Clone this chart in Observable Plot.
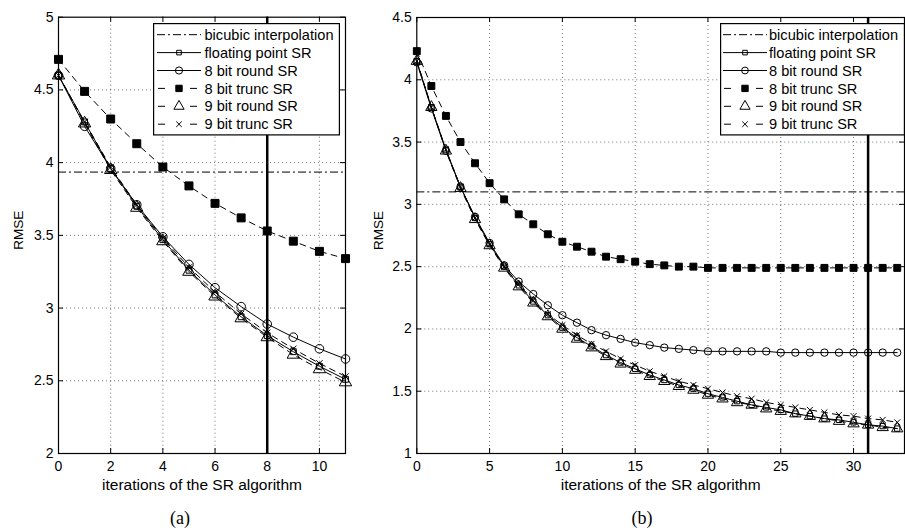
<!DOCTYPE html>
<html><head><meta charset="utf-8">
<script src="https://cdn.jsdelivr.net/npm/d3@7"></script>
<script src="https://cdn.jsdelivr.net/npm/@observablehq/plot@0.6"></script>
<style>
body{margin:0;background:#fff;}
#fig{position:relative;width:905px;height:532px;font-family:"Liberation Sans",Arial,sans-serif;overflow:hidden;}
#fig svg{position:absolute;}
.cap{position:absolute;font-family:"Liberation Serif","Times New Roman",serif;font-size:18px;transform:translateX(-50%);line-height:1;}
</style></head><body><div id="fig"></div>
<script>
// ---------- data ----------
const seriesNames = ["bicubic interpolation","floating point SR","8 bit round SR","8 bit trunc SR","9 bit round SR","9 bit trunc SR"];
const xLabel = "iterations of the SR algorithm";
const yLabel = "RMSE";

// panel (a)
const aIter = [0,1,2,3,4,5,6,7,8,9,10,11];
const aFloat  = [4.60,4.28,3.96,3.70,3.47,3.26,3.09,2.94,2.81,2.70,2.60,2.51];
const aRound8 = [4.60,4.25,3.96,3.71,3.49,3.30,3.14,3.01,2.89,2.80,2.72,2.65];
const aTrunc8 = [4.71,4.49,4.30,4.13,3.97,3.84,3.72,3.62,3.53,3.46,3.39,3.34];
const aRound9 = [4.60,4.27,3.95,3.69,3.46,3.25,3.08,2.93,2.80,2.68,2.58,2.49];
const aTrunc9 = [4.60,4.28,3.97,3.71,3.48,3.28,3.11,2.96,2.83,2.72,2.62,2.53];
const aBicubic = 3.935;
const aMarker = 8;
const aXTicks = [0,2,4,6,8,10];
const aYTicks = [2,2.5,3,3.5,4,4.5,5];

// panel (b)
const bIter = d3.range(0,34);
const bTrunc8 = [4.23,3.95,3.71,3.50,3.33,3.17,3.04,2.92,2.84,2.76,2.70,2.66,2.62,2.58,2.56,2.54,2.52,2.51,2.50,2.50,2.49,2.49,2.49,2.49,2.49,2.49,2.49,2.49,2.49,2.49,2.49,2.49,2.49,2.49];
const bRound8 = [4.14,3.77,3.43,3.14,2.90,2.69,2.51,2.38,2.28,2.19,2.11,2.05,1.99,1.95,1.92,1.89,1.87,1.85,1.84,1.83,1.82,1.82,1.82,1.82,1.82,1.81,1.81,1.81,1.81,1.81,1.81,1.81,1.81,1.81];
const bFloat  = [4.15,3.78,3.44,3.14,2.89,2.68,2.50,2.35,2.22,2.11,2.01,1.93,1.86,1.79,1.73,1.68,1.63,1.59,1.55,1.52,1.48,1.45,1.42,1.39,1.37,1.35,1.32,1.30,1.28,1.27,1.25,1.23,1.22,1.20];
const bRound9 = [4.15,3.78,3.43,3.13,2.88,2.67,2.49,2.34,2.21,2.10,2.00,1.92,1.85,1.78,1.72,1.67,1.62,1.58,1.54,1.51,1.47,1.44,1.41,1.39,1.36,1.34,1.32,1.30,1.28,1.26,1.24,1.23,1.21,1.20];
const bTrunc9 = [4.15,3.78,3.44,3.14,2.89,2.68,2.50,2.36,2.23,2.12,2.03,1.95,1.88,1.82,1.76,1.71,1.66,1.62,1.58,1.55,1.52,1.49,1.46,1.44,1.41,1.39,1.37,1.35,1.33,1.31,1.30,1.28,1.27,1.25];
const bBicubic = 3.10;
const bMarker = 31;
const bXTicks = [0,5,10,15,20,25,30];
const bYTicks = [1,1.5,2,2.5,3,3.5,4,4.5];

// ---------- styles ----------
const styles = [
  {dash:"8,3,2,3"},
  {symbol:"square", fill:"none", dash:null},
  {symbol:"circle", fill:"none", dash:null},
  {symbol:"square", fill:"black", dash:"6,5"},
  {symbol:"triangle", fill:"none", dash:"6,5"},
  {symbol:"times", fill:"none", dash:"6,5"}
];
const FONT = "'Liberation Sans', Arial, sans-serif";

function rows(iter, vals){ return iter.map((x,i)=>({x, y: vals[i]})); }

function panel({iter, series, bicubic, marker, xDomain, yDomain, xTicks, yTicks, width, height, mL, mR, mT, mB, radii, yLabelDx}) {
  const fw = width - mL - mR, fh = height - mT - mB;
  const marks = [
    Plot.gridX(xTicks.filter(t=>t>xDomain[0]), {stroke:"black", strokeOpacity:0.55, strokeDasharray:"1,3"}),
    Plot.gridY(yTicks.filter(t=>t>yDomain[0] && t<yDomain[1]), {stroke:"black", strokeOpacity:0.55, strokeDasharray:"1,3"}),
    Plot.ruleY([bicubic], {stroke:"black", strokeWidth:1, strokeDasharray:styles[0].dash}),
    Plot.ruleX([marker], {stroke:"black", strokeWidth:2.5})
  ];
  series.forEach((vals, k) => {
    const st = styles[k+1];
    marks.push(Plot.line(rows(iter, vals), {x:"x", y:"y", stroke:"black", strokeWidth:1, strokeDasharray: st.dash || undefined}));
  });
  series.forEach((vals, k) => {
    const st = styles[k+1];
    marks.push(Plot.dot(rows(iter, vals), {x:"x", y:"y", symbol: st.symbol, r: radii[k], stroke:"black", strokeWidth:1, fill: st.fill}));
  });
  marks.push(
    Plot.ruleX(xTicks, {stroke:"black", insetTop: fh-5}),
    Plot.ruleX(xTicks, {stroke:"black", insetBottom: fh-5}),
    Plot.ruleY(yTicks, {stroke:"black", insetRight: fw-5}),
    Plot.ruleY(yTicks, {stroke:"black", insetLeft: fw-5}),
    Plot.frame({stroke:"black", strokeWidth:1.2}),
    Plot.axisX(xTicks, {tickSize:0, tickPadding:8, tickFormat: d=>String(d), label: null, fontSize:14}),
    Plot.axisY(yTicks, {tickSize:0, tickPadding:5, tickFormat: d=>String(d), label: null, fontSize:14}),
    Plot.text([xLabel], {frameAnchor:"bottom", dy:36.5, fontSize:15.5, fill:"black"}),
    Plot.text([yLabel], {frameAnchor:"left", textAnchor:"middle", rotate:-90, dx:yLabelDx, dy:-5, fontSize:13.5, fill:"black"})
  );
  return Plot.plot({
    width, height, marginLeft:mL, marginRight:mR, marginTop:mT, marginBottom:mB,
    style:{fontFamily:FONT, fontSize:"14px", color:"black", background:"transparent", overflow:"visible"},
    x:{domain:xDomain}, y:{domain:yDomain},
    marks
  });
}

const fig = document.getElementById("fig");

const pa = panel({iter:aIter, series:[aFloat,aRound8,aTrunc8,aRound9,aTrunc9], bicubic:aBicubic, marker:aMarker,
  xDomain:[0,11], yDomain:[2,5], xTicks:aXTicks, yTicks:aYTicks,
  width:350, height:500, mL:58, mR:5, mT:16.7, mB:47, radii:[3.3,4.3,4.5,4.6,3], yLabelDx:-39.7});
pa.style.left = "0px"; pa.style.top = "0px";
fig.appendChild(pa);

const pb = panel({iter:bIter, series:[bFloat,bRound8,bTrunc8,bRound9,bTrunc9], bicubic:bBicubic, marker:bMarker,
  xDomain:[0,33.5], yDomain:[1,4.5], xTicks:bXTicks, yTicks:bYTicks,
  width:545, height:500, mL:56.3, mR:1, mT:17, mB:47, radii:[3,3.7,3.9,4.2,2.8], yLabelDx:-38.5});
pb.style.left = "360px"; pb.style.top = "0px";
fig.appendChild(pb);

// ---------- legends ----------
function legend(left, top, w, h, x0, x1, tx, radii) {
  const svg = d3.select(fig).append("svg")
    .attr("width", w).attr("height", h)
    .style("left", left+"px").style("top", top+"px");
  svg.append("rect").attr("x",0.6).attr("y",0.6).attr("width",w-1.2).attr("height",h-1.2)
    .attr("fill","white").attr("stroke","black").attr("stroke-width",1.2);
  const step = 17.9, y0 = 11.7;
  seriesNames.forEach((name, i) => {
    const y = y0 + i*step, st = styles[i];
    svg.append("line").attr("x1",x0).attr("x2",x1).attr("y1",y).attr("y2",y)
      .attr("stroke","black").attr("stroke-width",1)
      .attr("stroke-dasharray", st.dash === "6,5" ? "7,9" : (st.dash || null))
      .attr("stroke-dashoffset", st.dash === "6,5" ? -1 : 0);
    if (st.symbol) {
      const r = radii[i-1];
      const sym = {square:d3.symbolSquare, circle:d3.symbolCircle, triangle:d3.symbolTriangle, times:d3.symbolTimes}[st.symbol];
      const mx = (x0+x1)/2;
      if (st.dash) svg.append("rect").attr("x",mx-6).attr("y",y-2).attr("width",12).attr("height",4).attr("fill","white");
      svg.append("path").attr("d", d3.symbol(sym, Math.PI*r*r)())
        .attr("transform",`translate(${mx},${y})`)
        .attr("fill", st.fill).attr("stroke","black").attr("stroke-width",1);
    }
    svg.append("text").attr("x",tx).attr("y",y).attr("dy","0.35em")
      .attr("font-family",FONT).attr("font-size",14.6)
      .text(name);
  });
}
legend(152.5, 23, 187, 112.5, 4, 48, 51.5, [2.6,3.6,3.6,3.8,2.6]);
legend(720, 23, 185, 112.5, 3, 47, 49, [2.6,3.4,3.6,3.8,2.6]);

// ---------- captions ----------
[["(a)",180],["(b)",642]].forEach(([t,x])=>{
  const d = document.createElement("div");
  d.className = "cap"; d.textContent = t; d.style.left = x+"px"; d.style.top = "509px";
  fig.appendChild(d);
});
</script></body></html>
